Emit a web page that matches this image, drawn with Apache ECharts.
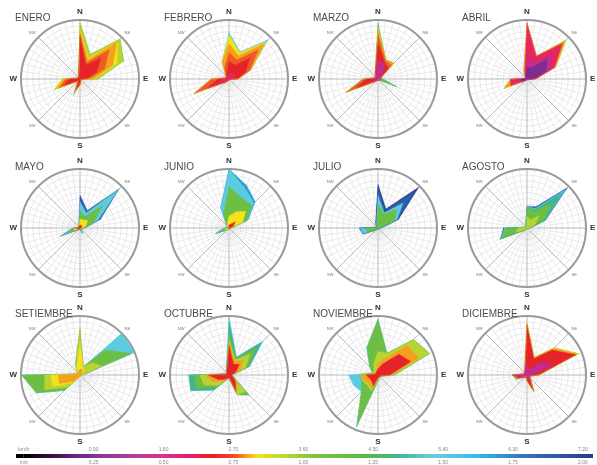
<!DOCTYPE html>
<html><head><meta charset="utf-8">
<script src="https://cdn.jsdelivr.net/npm/echarts@6/dist/echarts.min.js"></script>
<style>html,body{margin:0;padding:0;background:#fff}#c{width:597px;height:465px}</style>
</head><body><div id="c"></div>
<script>
// direction order: N NNE NE ENE E ESE SE SSE S SSW SW WSW W WNW NW NNW
const MONTHS = ['ENERO','FEBRERO','MARZO','ABRIL','MAYO','JUNIO','JULIO','AGOSTO','SETIEMBRE','OCTUBRE','NOVIEMBRE','DICIEMBRE'];
// speed class colours (low -> high)
const SPEED_COLORS = ['#7b2d90','#c62a8c','#e8265e','#e52329','#ee5a25','#f5a01f','#f3e11b','#b8d433','#6cbe45','#3fb58f','#5ccbe0','#2e9fd8','#2f5daa','#283a8c'];
// cumulative outline of each speed class, fraction of outer ring
const ENERO = [
 [3,[0.72,0.25,0.50,0.30,0.10,0.02,0.02,0.04,0.10,0.20,0.04,0.30,0.18,0.04,0.03,0.06]],
 [4,[0.76,0.30,0.70,0.45,0.15,0.02,0.02,0.04,0.10,0.20,0.04,0.38,0.24,0.04,0.03,0.06]],
 [5,[0.80,0.35,0.88,0.60,0.22,0.02,0.02,0.04,0.10,0.22,0.05,0.42,0.27,0.04,0.03,0.06]],
 [6,[0.82,0.38,0.90,0.68,0.25,0.02,0.02,0.04,0.10,0.22,0.05,0.47,0.30,0.04,0.03,0.06]],
 [7,[0.95,0.45,0.96,0.80,0.30,0.02,0.02,0.04,0.10,0.22,0.05,0.47,0.30,0.04,0.03,0.06]],
 [8,[0.95,0.45,0.96,0.80,0.30,0.02,0.02,0.04,0.10,0.30,0.05,0.47,0.30,0.04,0.03,0.06]]
];
const FEBRERO = [
 [2,[0.10,0.08,0.15,0.10,0.05,0.02,0.02,0.02,0.02,0.03,0.05,0.25,0.12,0.05,0.03,0.05]],
 [3,[0.30,0.25,0.50,0.30,0.15,0.02,0.02,0.02,0.02,0.03,0.06,0.40,0.18,0.05,0.04,0.10]],
 [4,[0.45,0.35,0.70,0.38,0.15,0.02,0.02,0.02,0.02,0.03,0.08,0.64,0.30,0.05,0.04,0.20]],
 [5,[0.60,0.42,0.85,0.40,0.15,0.02,0.02,0.02,0.02,0.03,0.08,0.64,0.30,0.05,0.04,0.31]],
 [6,[0.75,0.48,0.90,0.40,0.15,0.02,0.02,0.02,0.02,0.03,0.08,0.64,0.30,0.05,0.04,0.31]],
 [10,[0.79,0.50,0.94,0.40,0.15,0.02,0.02,0.02,0.02,0.03,0.08,0.64,0.30,0.05,0.04,0.31]]
];
const MARZO = [
 [1,[0.30,0.30,0.10,0.05,0.03,0.05,0.02,0.02,0.02,0.02,0.05,0.10,0.08,0.05,0.05,0.10]],
 [3,[0.60,0.30,0.25,0.05,0.03,0.05,0.02,0.02,0.02,0.02,0.05,0.40,0.20,0.05,0.05,0.12]],
 [4,[0.75,0.33,0.33,0.05,0.03,0.05,0.02,0.02,0.02,0.02,0.06,0.58,0.25,0.05,0.05,0.12]],
 [5,[0.82,0.35,0.38,0.05,0.03,0.05,0.02,0.02,0.02,0.02,0.06,0.58,0.25,0.05,0.05,0.12]],
 [6,[0.88,0.35,0.38,0.05,0.03,0.05,0.02,0.02,0.02,0.02,0.06,0.58,0.25,0.05,0.05,0.12]],
 [8,[0.88,0.35,0.38,0.05,0.03,0.35,0.02,0.02,0.02,0.02,0.06,0.58,0.25,0.05,0.05,0.12]],
 [9,[0.95,0.35,0.38,0.05,0.03,0.35,0.02,0.02,0.02,0.02,0.06,0.58,0.25,0.05,0.05,0.12]]
];
const ABRIL = [
 [0,[0.20,0.20,0.48,0.35,0.10,0.02,0.02,0.02,0.02,0.02,0.03,0.10,0.10,0.03,0.03,0.05]],
 [1,[0.40,0.30,0.60,0.45,0.12,0.02,0.02,0.02,0.02,0.02,0.03,0.15,0.20,0.03,0.03,0.05]],
 [2,[0.95,0.42,0.85,0.50,0.15,0.02,0.02,0.02,0.02,0.02,0.04,0.30,0.28,0.03,0.03,0.10]],
 [5,[0.95,0.42,0.90,0.53,0.15,0.02,0.02,0.02,0.02,0.02,0.04,0.42,0.28,0.03,0.03,0.15]],
 [7,[0.95,0.42,0.95,0.53,0.15,0.02,0.02,0.02,0.02,0.02,0.04,0.42,0.28,0.03,0.03,0.15]]
];
const MAYO = [
 [3,[0.05,0.05,0.05,0.03,0.02,0.02,0.02,0.02,0.02,0.02,0.03,0.05,0.08,0.03,0.02,0.03]],
 [6,[0.15,0.15,0.18,0.12,0.05,0.03,0.02,0.02,0.02,0.02,0.03,0.10,0.10,0.03,0.02,0.05]],
 [8,[0.30,0.20,0.55,0.25,0.08,0.03,0.04,0.05,0.02,0.02,0.04,0.25,0.12,0.03,0.02,0.05]],
 [10,[0.45,0.28,0.92,0.33,0.08,0.03,0.05,0.08,0.02,0.02,0.04,0.36,0.12,0.03,0.02,0.05]],
 [12,[0.56,0.32,0.94,0.37,0.08,0.03,0.06,0.10,0.02,0.02,0.04,0.36,0.12,0.03,0.02,0.05]]
];
const JUNIO = [
 [3,[0.05,0.05,0.15,0.08,0.02,0.02,0.02,0.02,0.02,0.02,0.02,0.03,0.03,0.02,0.02,0.03]],
 [6,[0.20,0.30,0.40,0.25,0.05,0.02,0.02,0.02,0.02,0.02,0.03,0.08,0.05,0.02,0.02,0.08]],
 [8,[0.70,0.55,0.55,0.33,0.05,0.02,0.02,0.02,0.02,0.03,0.05,0.25,0.08,0.03,0.03,0.25]],
 [10,[1.00,0.72,0.60,0.33,0.05,0.02,0.02,0.02,0.02,0.03,0.05,0.25,0.08,0.03,0.03,0.37]],
 [11,[1.00,0.78,0.63,0.35,0.05,0.02,0.02,0.02,0.02,0.03,0.05,0.25,0.08,0.03,0.03,0.37]]
];
const JULIO = [
 [8,[0.40,0.25,0.45,0.30,0.05,0.02,0.02,0.02,0.02,0.02,0.03,0.20,0.20,0.03,0.02,0.05]],
 [10,[0.55,0.28,0.60,0.35,0.05,0.02,0.02,0.02,0.02,0.02,0.03,0.27,0.32,0.03,0.02,0.08]],
 [12,[0.70,0.32,0.90,0.36,0.05,0.02,0.02,0.02,0.02,0.02,0.03,0.27,0.32,0.03,0.02,0.10]],
 [13,[0.74,0.35,0.98,0.37,0.05,0.02,0.02,0.02,0.02,0.02,0.03,0.27,0.32,0.03,0.02,0.10]]
];
const AGOSTO = [
 [7,[0.20,0.15,0.30,0.15,0.05,0.02,0.02,0.02,0.02,0.02,0.04,0.20,0.15,0.03,0.02,0.03]],
 [8,[0.37,0.30,0.60,0.30,0.05,0.02,0.02,0.02,0.02,0.02,0.05,0.49,0.35,0.03,0.02,0.05]],
 [9,[0.37,0.33,0.85,0.32,0.05,0.02,0.02,0.02,0.02,0.02,0.05,0.49,0.35,0.03,0.02,0.05]],
 [10,[0.37,0.36,0.92,0.33,0.05,0.02,0.02,0.02,0.02,0.02,0.05,0.49,0.38,0.03,0.02,0.05]],
 [12,[0.37,0.39,0.97,0.34,0.05,0.02,0.02,0.02,0.02,0.02,0.05,0.49,0.40,0.03,0.02,0.05]]
];
const SETIEMBRE = [
 [5,[0.10,0.10,0.05,0.03,0.02,0.02,0.02,0.02,0.02,0.02,0.15,0.38,0.37,0.05,0.03,0.05]],
 [6,[0.55,0.15,0.10,0.05,0.02,0.02,0.02,0.02,0.02,0.05,0.20,0.50,0.50,0.05,0.03,0.15]],
 [7,[0.78,0.15,0.30,0.40,0.03,0.02,0.02,0.02,0.02,0.05,0.30,0.65,0.60,0.05,0.05,0.20]],
 [8,[0.78,0.15,0.60,0.95,0.05,0.02,0.02,0.02,0.02,0.05,0.37,0.80,0.99,0.05,0.05,0.20]],
 [10,[0.78,0.15,1.00,1.00,0.05,0.02,0.02,0.02,0.02,0.05,0.37,0.80,0.99,0.05,0.05,0.20]]
];
const OCTUBRE = [
 [3,[0.50,0.20,0.25,0.12,0.05,0.05,0.15,0.30,0.05,0.03,0.10,0.20,0.35,0.05,0.03,0.05]],
 [5,[0.55,0.25,0.35,0.20,0.05,0.05,0.20,0.35,0.05,0.03,0.15,0.30,0.40,0.05,0.03,0.05]],
 [7,[0.60,0.28,0.50,0.30,0.05,0.05,0.40,0.36,0.05,0.03,0.25,0.45,0.50,0.05,0.03,0.05]],
 [8,[0.70,0.30,0.65,0.35,0.05,0.05,0.48,0.36,0.05,0.03,0.30,0.60,0.60,0.05,0.03,0.05]],
 [9,[0.90,0.32,0.78,0.37,0.05,0.05,0.48,0.36,0.05,0.03,0.36,0.70,0.68,0.05,0.03,0.05]],
 [10,[0.99,0.33,0.82,0.38,0.05,0.05,0.48,0.36,0.05,0.03,0.36,0.70,0.68,0.05,0.03,0.05]]
];
const NOVIEMBRE = [
 [3,[0.10,0.20,0.50,0.60,0.20,0.05,0.03,0.03,0.05,0.20,0.15,0.15,0.20,0.05,0.05,0.05]],
 [5,[0.20,0.30,0.70,0.75,0.25,0.05,0.03,0.03,0.05,0.25,0.20,0.25,0.30,0.05,0.05,0.08]],
 [7,[0.40,0.40,0.85,0.95,0.28,0.05,0.03,0.03,0.08,0.30,0.25,0.28,0.30,0.08,0.10,0.20]],
 [8,[0.95,0.40,0.85,0.95,0.28,0.05,0.03,0.03,0.10,0.95,0.40,0.30,0.30,0.10,0.20,0.50]],
 [10,[0.95,0.40,0.85,0.95,0.28,0.05,0.03,0.03,0.10,0.95,0.40,0.45,0.50,0.10,0.20,0.50]]
];
const DICIEMBRE = [
 [1,[0.20,0.10,0.30,0.50,0.10,0.05,0.05,0.10,0.05,0.03,0.03,0.10,0.25,0.05,0.03,0.05]],
 [3,[0.85,0.30,0.60,0.90,0.20,0.05,0.05,0.30,0.10,0.03,0.05,0.15,0.25,0.05,0.03,0.10]],
 [5,[0.88,0.32,0.65,0.92,0.20,0.05,0.05,0.30,0.10,0.03,0.05,0.15,0.25,0.05,0.03,0.10]],
 [6,[0.88,0.32,0.65,0.95,0.20,0.05,0.05,0.30,0.10,0.03,0.05,0.15,0.25,0.05,0.03,0.10]],
 [8,[0.88,0.32,0.65,0.95,0.20,0.05,0.05,0.30,0.10,0.03,0.05,0.20,0.25,0.05,0.03,0.10]]
];
const MONTH_DATA = [ENERO,FEBRERO,MARZO,ABRIL,MAYO,JUNIO,JULIO,AGOSTO,SETIEMBRE,OCTUBRE,NOVIEMBRE,DICIEMBRE];
const DIR_ANGLES = [0,22.5,45,67.5,90,112.5,135,157.5,180,202.5,225,247.5,270,292.5,315,337.5];
const DIR_LABELS = {0:'{b|N}',45:'{s|NE}',90:'{b|E}',135:'{s|SE}',180:'{b|S}',225:'{s|SW}',270:'{b|W}',315:'{s|NW}'};
// colour bar
const KMH_TICKS = [0,0.9,1.8,2.7,3.6,4.5,5.4,6.3,7.2];
const BAR_STOPS = [[0,'#000000'],[0.05,'#3a1040'],[0.09,'#6a2384'],[0.14,'#8e3a98'],[0.2,'#b53f9c'],[0.24,'#d63590'],[0.28,'#ea1e73'],[0.33,'#e8202a'],[0.37,'#f04a24'],[0.39,'#f59a1f'],[0.41,'#f6e51a'],[0.46,'#b8d433'],[0.52,'#78c043'],[0.6,'#5cb84a'],[0.66,'#3fb893'],[0.72,'#6fcbdc'],[0.79,'#2ec1ee'],[0.88,'#3a6fbd'],[1,'#2b3a8c']];

const CX = [80,229,378,527], CY = [79,228,375];
const polar=[], angleAxis=[], radiusAxis=[], series=[], title=[];
MONTHS.forEach((m,i)=>{
  const cx = CX[i%4], cy = CY[Math.floor(i/4)];
  polar.push({center:[cx,cy], radius:59});
  title.push({text:m, left:cx-70, top:cy-71, textStyle:{fontSize:10, fontWeight:'normal', color:'#4a4a4a', fontFamily:'Liberation Sans'}});
  angleAxis.push({polarIndex:i, type:'value', min:0, max:360, interval:7.5, startAngle:90, clockwise:true,
    axisLine:{lineStyle:{color:'#9a9a9a', width:2}}, axisTick:{show:false},
    splitLine:{lineStyle:{color:['#8c8c8c','#dedede','#dedede','#dedede','#dedede','#dedede'], width:0.6}},
    axisLabel:{margin:4, formatter:v=>DIR_LABELS[v]||'',
      rich:{b:{fontSize:8, fontWeight:'bold', color:'#333', fontFamily:'Liberation Sans'}, s:{fontSize:4, color:'#777', fontFamily:'Liberation Sans'}}}
  });
  radiusAxis.push({polarIndex:i, type:'value', min:0, max:1, interval:0.1, axisLine:{show:false}, axisTick:{show:false}, axisLabel:{show:false},
    splitLine:{lineStyle:{color:'#dedede', width:0.6}}});
  const layers = MONTH_DATA[i];
  for (let L = layers.length-1; L>=0; L--) {
    const [cls, vals] = layers[L];
    const d = DIR_ANGLES.map((a,k)=>[vals[k], a]);
    d.push([vals[0], 360]);
    series.push({type:'line', coordinateSystem:'polar', polarIndex:i, data:d, symbol:'none', smooth:false, silent:true,
      lineStyle:{width:0.4, color:SPEED_COLORS[cls]}, areaStyle:{color:SPEED_COLORS[cls], opacity:1}});
  }
});
const chart = echarts.init(document.getElementById('c'), null, {renderer:'canvas'});
const lblStyle = {fontSize:5, color:'#888', fontFamily:'Liberation Sans', margin:2};
chart.setOption({
  animation:false,
  title, polar, angleAxis, radiusAxis,
  grid:{left:16, right:4, top:454, height:7},
  xAxis:[
    {type:'value', position:'top', min:-0.1, max:7.33, axisLine:{show:false}, axisTick:{show:false}, splitLine:{show:false},
      axisLabel:Object.assign({customValues:KMH_TICKS, formatter:v=>v===0?'km/h':v.toFixed(2)}, lblStyle)},
    {type:'value', position:'bottom', min:-0.1, max:7.33, axisLine:{show:false}, axisTick:{show:false}, splitLine:{show:false},
      axisLabel:Object.assign({customValues:KMH_TICKS, formatter:v=>v===0?'m/s':(v/3.6).toFixed(2)}, lblStyle)}
  ],
  yAxis:{type:'category', data:['v'], show:false},
  series: series.concat([
    {type:'bar', xAxisIndex:0, data:[-0.1], barWidth:'100%', barGap:'-100%', itemStyle:{color:'#000'}, silent:true},
    {type:'bar', xAxisIndex:0, data:[7.33], barWidth:'100%', barGap:'-100%', silent:true,
      itemStyle:{color:new echarts.graphic.LinearGradient(0,0,1,0, BAR_STOPS.map(s=>({offset:s[0], color:s[1]})))}}
  ])
});
</script></body></html>
